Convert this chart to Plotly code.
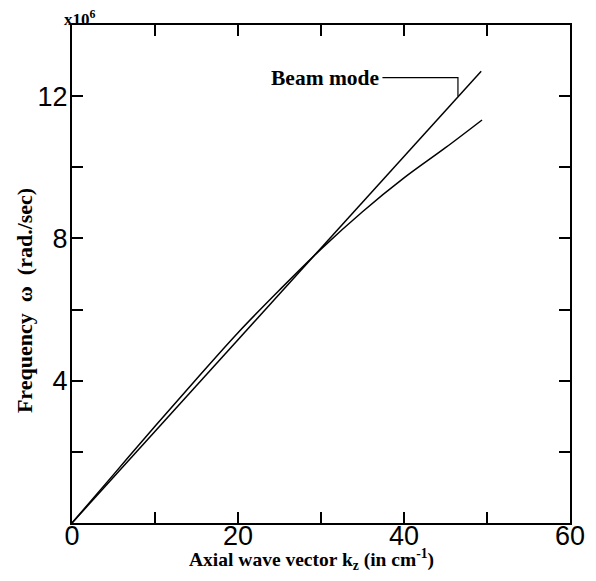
import plotly.graph_objects as go

# Data (omega in units of 1e6 rad/sec, k in cm^-1)
beam_k = [0, 49.3]
beam_w = [0, 12.7]

disp_k = [0, 5, 10, 15, 20, 25, 30, 35, 40, 45, 49.4]
disp_w = [0, 1.36, 2.72, 4.05, 5.35, 6.55, 7.70, 8.75, 9.70, 10.55, 11.33]

# leader line for "Beam mode" label
leader_k = [37.4, 46.5, 46.5]
leader_w = [12.52, 12.52, 12.0]

x_tickvals = [0, 10, 20, 30, 40, 50, 60]
x_ticktext = ["0", "", "20", "", "40", "", "60"]
y_tickvals = [0, 2, 4, 6, 8, 10, 12, 14]
y_ticktext = ["", "", "4", "", "8", "", "12", ""]

serif = "Liberation Serif"
sans = "Liberation Sans"

fig = go.Figure()
fig.add_trace(go.Scatter(x=beam_k, y=beam_w, mode="lines",
                         line=dict(color="black", width=1.5), showlegend=False))
fig.add_trace(go.Scatter(x=disp_k, y=disp_w, mode="lines", line_shape="spline",
                         line=dict(color="black", width=1.5), showlegend=False))
fig.add_trace(go.Scatter(x=leader_k, y=leader_w, mode="lines",
                         line=dict(color="black", width=1.2), showlegend=False))

fig.add_annotation(x=37.2, y=12.52, text="<b>Beam mode</b>", showarrow=False,
                   xanchor="right", yanchor="middle",
                   font=dict(family=serif, size=21.5, color="black"))
fig.add_annotation(x=0, y=1, xref="paper", yref="paper", text="<b>x10<sup>6</sup></b>",
                   showarrow=False, xanchor="left", yanchor="bottom", xshift=-10, yshift=-6,
                   font=dict(family=serif, size=17, color="black"))
fig.add_annotation(x=0.48, y=-0.073, xref="paper", yref="paper",
                   text="<b>Axial wave vector k<sub>z</sub> (in cm<sup>-1</sup>)</b>",
                   showarrow=False, xanchor="center", yanchor="middle",
                   font=dict(family=serif, size=19.5, color="black"))
fig.add_annotation(x=-0.094, y=0.446, xref="paper", yref="paper",
                   text="<b>Frequency  ω  (rad./sec)</b>", textangle=-90,
                   showarrow=False, xanchor="center", yanchor="middle",
                   font=dict(family=serif, size=22, color="black"))

axis_common = dict(showline=True, linecolor="black", linewidth=2, mirror="ticks",
                   ticks="inside", ticklen=11, tickwidth=1.5, tickcolor="black",
                   showgrid=False, zeroline=False, automargin=False,
                   tickfont=dict(family=sans, size=27, color="black"))

fig.update_xaxes(range=[0, 60], tickvals=x_tickvals, ticktext=x_ticktext,
                 ticklabelstandoff=-12, **axis_common)
fig.update_yaxes(range=[0, 14], tickvals=y_tickvals, ticktext=y_ticktext,
                 ticklabelstandoff=-3, **axis_common)

# page body has an 8px margin; compensate so the plot sits where the reference's does
fig.update_layout(width=580, height=565, plot_bgcolor="white", paper_bgcolor="white",
                  margin=dict(l=64, r=18, t=17, b=50), showlegend=False)

fig.write_html("out.html")
